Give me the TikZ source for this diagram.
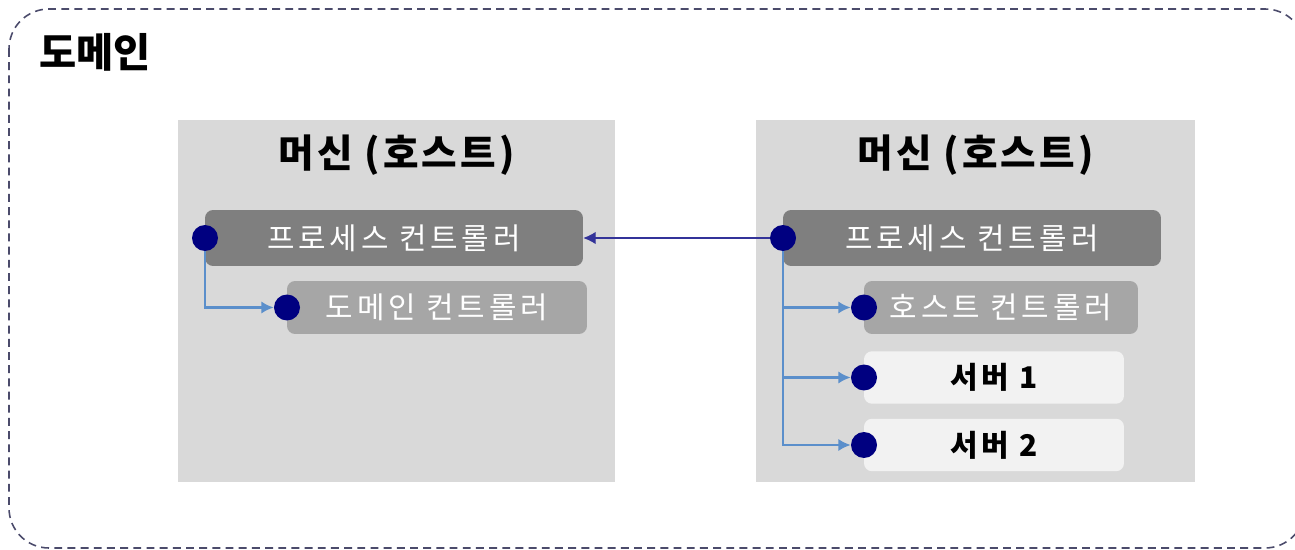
\documentclass[tikz,border=0pt]{standalone}
\usepackage{fontspec}
\setmainfont{Noto Sans CJK KR}
\newfontfamily\spacedtext[LetterSpace=13]{Noto Sans CJK KR}
\newfontfamily\spacedtitle[LetterSpace=8]{Noto Sans CJK KR}
\usetikzlibrary{arrows.meta}
\definecolor{hostfill}{HTML}{D9D9D9}
\definecolor{pcfill}{HTML}{7F7F7F}
\definecolor{ctlfill}{HTML}{A6A6A6}
\definecolor{srvfill}{HTML}{F2F2F2}
\definecolor{dotnavy}{HTML}{000080}
\definecolor{connblue}{HTML}{5B8FCB}
\definecolor{borderline}{HTML}{4B4B6B}
\begin{document}
\begin{tikzpicture}[x=0.02cm, y=-0.02cm,
	hostbox/.style={fill=hostfill, inner sep=0pt, minimum height=7.24cm},
	pcbox/.style={fill=pcfill, rounded corners=0.16cm, text=white, minimum width=7.56cm, minimum height=1.12cm, font=\spacedtext\fontsize{17}{20}\selectfont},
	ctlbox/.style={fill=ctlfill, rounded corners=0.16cm, text=white, minimum height=1.06cm, font=\spacedtext\fontsize{17}{20}\selectfont},
	srvbox/.style={fill=srvfill, rounded corners=0.16cm, minimum width=5.2cm, minimum height=1.05cm, font=\spacedtext\bfseries\fontsize{17}{20}\selectfont},
	hosttitle/.style={font=\spacedtitle\bfseries\fontsize{22}{26}\selectfont},
	dotnode/.style={circle, fill=dotnavy, inner sep=0pt, minimum size=0.52cm},
	conn/.style={draw=connblue, line width=1.2pt, -{Latex[length=7pt, width=7pt]}},
	link/.style={draw=dotnavy!80, line width=0.6pt, -{Latex[length=7pt, width=7pt]}}]
	\useasboundingbox (0,0) rectangle (1295,550);
	\draw[borderline, line width=0.9pt, dash pattern=on 4.5pt off 3pt, rounded corners=0.8cm](9,9) rectangle (1305,548);
	\node[font=\bfseries\fontsize{23}{27}\selectfont](domain) at (95,52){도메인};
	\node[hostbox, minimum width=8.74cm](hostL) at (396.5,301){};
	\node[hostbox, minimum width=8.78cm](hostR) at (975.5,301){};
	\node[hosttitle](titleL) at (396.5,155){머신 (호스트)};
	\node[hosttitle](titleR) at (975.5,155){머신 (호스트)};
	\node[pcbox](procL) at (394,238){프로세스 컨트롤러};
	\node[pcbox](procR) at (972,238){프로세스 컨트롤러};
	\node[ctlbox, minimum width=6cm](domctl) at (437,307.5){도메인 컨트롤러};
	\node[ctlbox, minimum width=5.48cm](hostctl) at (1001,307.5){호스트 컨트롤러};
	\node[srvbox](srv1) at (994,377.5){서버 1};
	\node[srvbox](srv2) at (994,445){서버 2};
	\node[dotnode](dprocL) at (205,238){};
	\node[dotnode](ddomctl) at (287,307.5){};
	\node[dotnode](dprocR) at (783,238){};
	\node[dotnode](dhostctl) at (864,307.5){};
	\node[dotnode](dsrv1) at (864,377.5){};
	\node[dotnode](dsrv2) at (864,445){};
	\draw[conn](dprocL) |- (ddomctl);
	\draw[conn](dprocR) |- (dhostctl);
	\draw[conn](dprocR) |- (dsrv1);
	\draw[conn](dprocR) |- (dsrv2);
	\draw[link](dprocR) -- (procL.east);
\end{tikzpicture}
\end{document}
